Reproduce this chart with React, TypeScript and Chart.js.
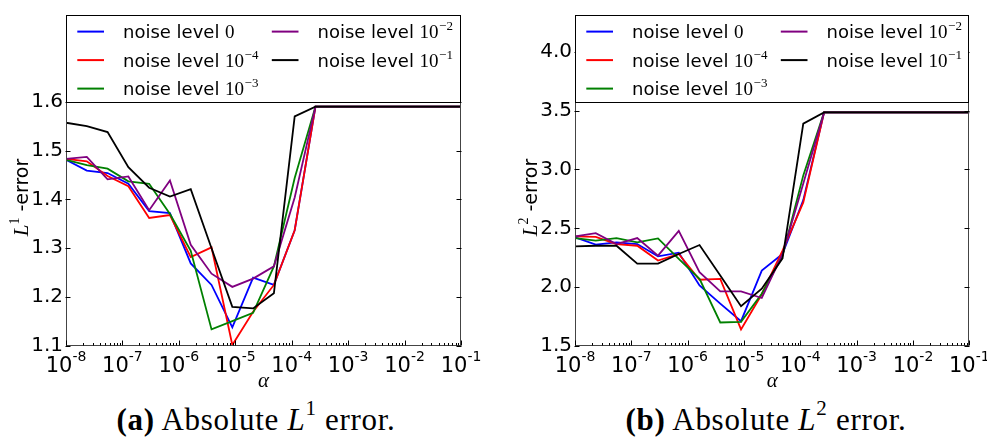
import React, { useEffect, useRef } from "react";
import { Chart, registerables } from "chart.js";

Chart.register(...registerables);

// regularisation parameter alpha (20 log-spaced samples from 1e-8 to 1e-1)
const alphas = [
  1e-8, 2.336e-8, 5.456e-8, 1.274e-7, 2.976e-7, 6.952e-7, 1.624e-6, 3.793e-6,
  8.859e-6, 2.069e-5, 4.833e-5, 1.129e-4, 2.637e-4, 6.158e-4, 1.438e-3,
  3.36e-3, 7.848e-3, 1.833e-2, 4.281e-2, 1e-1,
];

// Absolute L1 error
const l1Noise0 = [1.481, 1.459, 1.454, 1.432, 1.376, 1.372, 1.269, 1.225, 1.138, 1.24, 1.225, 1.337, 1.59, 1.59, 1.59, 1.59, 1.59, 1.59, 1.59, 1.59];
const l1Noise4 = [1.483, 1.478, 1.448, 1.427, 1.362, 1.368, 1.282, 1.302, 1.102, 1.17, 1.225, 1.337, 1.59, 1.59, 1.59, 1.59, 1.59, 1.59, 1.59, 1.59];
const l1Noise3 = [1.481, 1.47, 1.463, 1.437, 1.432, 1.37, 1.295, 1.134, 1.151, 1.168, 1.263, 1.444, 1.59, 1.59, 1.59, 1.59, 1.59, 1.59, 1.59, 1.59];
const l1Noise2 = [1.483, 1.487, 1.441, 1.447, 1.378, 1.439, 1.307, 1.248, 1.221, 1.238, 1.263, 1.404, 1.59, 1.59, 1.59, 1.59, 1.59, 1.59, 1.59, 1.59];
const l1Noise1 = [1.557, 1.55, 1.538, 1.466, 1.424, 1.406, 1.421, 1.3, 1.18, 1.177, 1.208, 1.57, 1.59, 1.59, 1.59, 1.59, 1.59, 1.59, 1.59, 1.59];

// Absolute L2 error
const l2Noise0 = [2.423, 2.361, 2.38, 2.366, 2.262, 2.293, 2.015, 1.86, 1.711, 2.141, 2.282, 2.74, 3.485, 3.485, 3.485, 3.485, 3.485, 3.485, 3.485, 3.485];
const l2Noise4 = [2.431, 2.428, 2.366, 2.352, 2.226, 2.282, 2.063, 2.071, 1.641, 1.94, 2.31, 2.72, 3.485, 3.485, 3.485, 3.485, 3.485, 3.485, 3.485, 3.485];
const l2Noise3 = [2.417, 2.395, 2.417, 2.38, 2.414, 2.24, 2.071, 1.7, 1.705, 1.944, 2.268, 2.95, 3.485, 3.485, 3.485, 3.485, 3.485, 3.485, 3.485, 3.485];
const l2Noise2 = [2.431, 2.459, 2.366, 2.417, 2.268, 2.479, 2.127, 1.964, 1.964, 1.908, 2.28, 2.88, 3.485, 3.485, 3.485, 3.485, 3.485, 3.485, 3.485, 3.485];
const l2Noise1 = [2.347, 2.352, 2.352, 2.2, 2.2, 2.282, 2.358, 2.1, 1.838, 1.987, 2.245, 3.39, 3.485, 3.485, 3.485, 3.485, 3.485, 3.485, 3.485, 3.485];

const seriesLabels = ["noise level 0", "noise level 10^-4", "noise level 10^-3", "noise level 10^-2", "noise level 10^-1"];
const seriesExponents = ["", "4", "3", "2", "1"];
const seriesColors = ["#0000ff", "#ff0000", "#008000", "#800080", "#000000"];
const legendOrder = [0, 1, 2, 3, 4];

const xTickExps = [-8, -7, -6, -5, -4, -3, -2, -1];
const l1Ticks = [1.1, 1.2, 1.3, 1.4, 1.5, 1.6];
const l2Ticks = [1.5, 2.0, 2.5, 3.0, 3.5, 4.0];

type Spec = {
  series: number[][];
  yMin: number;
  yMax: number;
  yTicks: number[];
  sup: string;
  left: number;
  width: number;
  plotLeft: number;
  padRight: number;
};

const CANVAS_H = 395;
const PLOT_BOTTOM = 346;
const PLOT_TOP = 13;

function makeDecor(spec: Spec) {
  return {
    id: "decor",
    afterDraw(chart: any) {
      const ctx: CanvasRenderingContext2D = chart.ctx;
      const a = chart.chartArea;
      const xs = chart.scales.x;
      const ys = chart.scales.y;
      ctx.save();

      // frame
      ctx.strokeStyle = "#444";
      ctx.lineWidth = 1;
      const L = Math.round(a.left) + 0.5;
      const R = Math.round(a.right) - 0.5;
      const T = Math.round(a.top) + 0.5;
      const B = Math.round(a.bottom) - 0.5;
      ctx.strokeRect(L, T, R - L, B - T);

      // inward ticks
      ctx.strokeStyle = "#000";
      ctx.beginPath();
      for (const e of xTickExps) {
        for (let m = 1; m <= 9; m++) {
          const v = m * Math.pow(10, e);
          if (v > xs.max * 1.0001) break;
          const px = Math.round(xs.getPixelForValue(v)) + 0.5;
          const len = m === 1 ? 5 : 2.5;
          ctx.moveTo(px, B);
          ctx.lineTo(px, B - len);
        }
      }
      for (const t of ys.ticks) {
        const py = Math.round(ys.getPixelForValue(t.value)) + 0.5;
        ctx.moveTo(L - 1, py);
        ctx.lineTo(L + 4, py);
        ctx.moveTo(R + 1, py);
        ctx.lineTo(R - 4, py);
      }
      ctx.stroke();

      // x tick labels 10^e
      ctx.fillStyle = "#000";
      ctx.textBaseline = "alphabetic";
      ctx.textAlign = "left";
      for (const t of xs.ticks) {
        const e = Math.round(Math.log10(t.value));
        const base = "10";
        const ex = String(e);
        ctx.font = '21px "DejaVu Sans"';
        const wb = ctx.measureText(base).width;
        ctx.font = '14px "DejaVu Sans"';
        const we = ctx.measureText(ex).width;
        const px = xs.getPixelForValue(t.value);
        const x0 = px - (wb + we) / 2;
        ctx.font = '21px "DejaVu Sans"';
        ctx.fillText(base, x0, a.bottom + 26);
        ctx.font = '14px "DejaVu Sans"';
        ctx.fillText(ex, x0 + wb, a.bottom + 15);
      }

      // x title
      ctx.font = 'italic 21px "Liberation Serif"';
      ctx.textAlign = "center";
      ctx.fillText("\u03b1", (a.left + a.right) / 2, a.bottom + 41);

      // y title (rotated)
      ctx.save();
      ctx.translate(a.left - 38, (a.top + a.bottom) / 2 + 17);
      ctx.rotate(-Math.PI / 2);
      const parts = [
        { t: "L", f: 'italic 21px "Liberation Serif"', dy: 0 },
        { t: spec.sup, f: '14px "Liberation Serif"', dy: -9 },
        { t: " -error", f: '19px "DejaVu Sans"', dy: 0 },
      ];
      let total = 0;
      for (const p of parts) {
        ctx.font = p.f;
        total += ctx.measureText(p.t).width;
      }
      let cx = -total / 2;
      ctx.textAlign = "left";
      for (const p of parts) {
        ctx.font = p.f;
        ctx.fillText(p.t, cx, p.dy);
        cx += ctx.measureText(p.t).width;
      }
      ctx.restore();

      // legend box
      const lt = Math.round(a.top) + 0.5;
      const ll = L;
      const lr = R;
      const lb = Math.round(a.top + 87.3) + 0.5;
      ctx.fillStyle = "#fff";
      ctx.fillRect(ll, lt, lr - ll, lb - lt);
      ctx.strokeStyle = "#000";
      ctx.lineWidth = 1;
      ctx.strokeRect(ll, lt, lr - ll, lb - lt);

      legendOrder.forEach((si, idx) => {
        const col = idx < 3 ? 0 : 1;
        const row = idx < 3 ? idx : idx - 3;
        const ox = a.left + col * 194.5;
        const hy = a.top + 16.6 + row * 28.5;
        ctx.strokeStyle = seriesColors[si];
        ctx.lineWidth = 2;
        ctx.beginPath();
        ctx.moveTo(ox + 11.3, hy);
        ctx.lineTo(ox + 38, hy);
        ctx.stroke();
        const by = hy + 6.5;
        let tx = ox + 57;
        ctx.fillStyle = "#000";
        ctx.textAlign = "left";
        ctx.font = '18px "DejaVu Sans"';
        ctx.fillText("noise level ", tx, by);
        tx += ctx.measureText("noise level ").width;
        ctx.font = '19px "Liberation Serif"';
        if (seriesExponents[si] === "") {
          ctx.fillText("0", tx, by);
        } else {
          ctx.fillText("10", tx, by);
          tx += ctx.measureText("10").width;
          ctx.font = '13px "Liberation Serif"';
          ctx.fillText("\u2212" + seriesExponents[si], tx + 0.5, by - 8);
        }
      });

      ctx.restore();
    },
  };
}

function Panel({ spec }: { spec: Spec }) {
  const ref = useRef<HTMLCanvasElement>(null);
  useEffect(() => {
    const datasets = spec.series.map((vals, i) => ({
      label: seriesLabels[i],
      data: vals.map((v, k) => ({ x: alphas[k], y: v })),
      borderColor: seriesColors[i],
      backgroundColor: seriesColors[i],
      borderWidth: 1.8,
      pointRadius: 0,
      tension: 0,
      fill: false,
      order: spec.series.length - 1 - i,
    }));
    const chart = new Chart(ref.current!, {
      type: "line",
      data: { datasets },
      options: {
        responsive: false,
        animation: false,
        events: [],
        layout: { padding: { top: PLOT_TOP, right: spec.padRight, left: 0, bottom: 0 } },
        plugins: { legend: { display: false }, tooltip: { enabled: false } },
        scales: {
          x: {
            type: "logarithmic",
            min: 1e-8,
            max: 1e-1,
            grid: { display: false, drawTicks: false },
            border: { display: false },
            ticks: { display: false },
            afterBuildTicks: (s: any) => {
              s.ticks = xTickExps.map((e) => ({ value: Math.pow(10, e) }));
            },
            afterFit: (s: any) => {
              s.height = CANVAS_H - PLOT_BOTTOM;
            },
          },
          y: {
            type: "linear",
            min: spec.yMin,
            max: spec.yMax,
            grid: { display: false, drawTicks: false },
            border: { display: false },
            ticks: {
              color: "#000",
              font: { family: "DejaVu Sans", size: 20 },
              padding: 3,
              callback: (v: any) => Number(v).toFixed(1),
            },
            afterBuildTicks: (s: any) => {
              s.ticks = spec.yTicks.map((v) => ({ value: v }));
            },
            afterFit: (s: any) => {
              s.width = spec.plotLeft;
            },
          },
        },
      },
      plugins: [makeDecor(spec)],
    } as any);
    return () => chart.destroy();
  }, []);
  return (
    <canvas
      ref={ref}
      width={spec.width}
      height={CANVAS_H}
      style={{ position: "absolute", left: spec.left, top: 0, width: spec.width, height: CANVAS_H }}
    />
  );
}

const leftSpec: Spec = {
  series: [l1Noise0, l1Noise4, l1Noise3, l1Noise2, l1Noise1],
  yMin: 1.1,
  yMax: 1.7775,
  yTicks: l1Ticks,
  sup: "1",
  left: 0,
  width: 490,
  plotLeft: 66,
  padRight: 29,
};

const rightSpec: Spec = {
  series: [l2Noise0, l2Noise4, l2Noise3, l2Noise2, l2Noise1],
  yMin: 1.5,
  yMax: 4.313,
  yTicks: l2Ticks,
  sup: "2",
  left: 490,
  width: 497,
  plotLeft: 85,
  padRight: 17.7,
};

function Caption({ left, width, letter, sup }: { left: number; width: number; letter: string; sup: string }) {
  return (
    <div
      style={{
        position: "absolute",
        left,
        width,
        top: 405,
        textAlign: "center",
        fontFamily: '"Liberation Serif", serif',
        fontSize: 31,
        lineHeight: "30px",
        letterSpacing: "0.7px",
        whiteSpace: "nowrap",
        color: "#000",
      }}
    >
      <b>({letter})</b> Absolute <i>L</i>
      <span style={{ fontSize: 21, position: "relative", top: -15 }}>{sup}</span> error.
    </div>
  );
}

export default function App() {
  return (
    <div
      style={{
        position: "absolute",
        left: 0,
        top: 0,
        width: 987,
        height: 440,
        background: "#fff",
        overflow: "hidden",
      }}
    >
      <Panel spec={leftSpec} />
      <Panel spec={rightSpec} />
      <Caption left={0} width={512} letter="a" sup="1" />
      <Caption left={520} width={492} letter="b" sup="2" />
    </div>
  );
}
